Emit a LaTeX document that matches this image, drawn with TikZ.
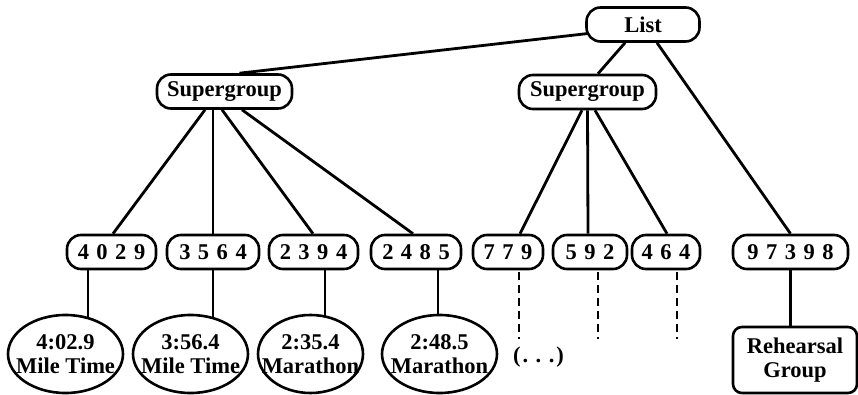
\documentclass[tikz,border=0pt]{standalone}
\usepackage{fontspec}
\setmainfont{Liberation Serif}
\usetikzlibrary{shapes.geometric,backgrounds,calc}
\newcommand\sepd{\hspace{7.5pt}}
\begin{document}
\begin{tikzpicture}[x=1pt,y=-1pt,
  every node/.style={font=\fontsize{22.5}{24}\selectfont\bfseries},
  pill/.style={draw, line width=2.6pt, fill=white, rounded corners=14pt, minimum height=34pt, inner sep=0pt},
  leaf/.style={draw, ellipse, line width=2.6pt, fill=white, minimum height=78pt, inner sep=0pt},
  lbl/.style={inner sep=0pt, align=center},
  boxr/.style={draw, line width=2.6pt, fill=white, rounded corners=9pt, minimum width=124pt, minimum height=66pt, inner sep=0pt, align=center},
  conn/.style={line width=2.8pt},
  dashconn/.style={line width=2.8pt, dash pattern=on 8pt off 5pt}
]
\useasboundingbox (0,0) rectangle (858,395);

% top level
\node[pill, minimum width=113pt] (list) at (643,24.5) {List};
\node[pill, minimum width=135pt] (sg1) at (224.5,91.5) {Supergroup};
\node[pill, minimum width=137pt] (sg2) at (587.5,92) {Supergroup};

% number nodes
\node[pill, minimum width=89pt] (n4029) at (111.5,252) {4\sepd0\sepd2\sepd9};
\node[pill, minimum width=92pt] (n3564) at (213,252) {3\sepd5\sepd6\sepd4};
\node[pill, minimum width=89pt] (n2394) at (313.5,252) {2\sepd3\sepd9\sepd4};
\node[pill, minimum width=90pt] (n2485) at (416,252) {2\sepd4\sepd8\sepd5};
\node[pill, minimum width=70pt] (n779) at (508,252) {7\sepd7\sepd9};
\node[pill, minimum width=74pt] (n592) at (590,252) {5\sepd9\sepd2};
\node[pill, minimum width=68pt] (n464) at (666,252) {4\sepd6\sepd4};
\node[pill, minimum width=115pt] (n97398) at (790.5,252) {9\sepd7\sepd3\sepd9\sepd8};

% leaves
\node[leaf, minimum width=115pt] (e1) at (65.5,354) {};
\node[lbl] (e1t) at (e1.center) {4:02.9\\Mile Time};
\node[leaf, minimum width=115pt] (e2) at (190.5,354) {};
\node[lbl] (e2t) at (e2.center) {3:56.4\\Mile Time};
\node[leaf, minimum width=105pt] (e3) at (310.5,354) {};
\node[lbl] (e3t) at (e3.center) {2:35.4\\Marathon};
\node[leaf, minimum width=115pt] (e4) at (439.5,354) {};
\node[lbl] (e4t) at (e4.center) {2:48.5\\Marathon};
\node[lbl] (dots) at (538.5,357) {(\hspace{2pt}.\hspace{7.5pt}.\hspace{7.5pt}.\hspace{2pt})};
\node[boxr] (rh) at (795,360) {Rehearsal\\Group};

% free ends of dashed lines
\coordinate (d1) at ($(n779.south)+(11,69)$);
\coordinate (d2) at ($(n592.south)+(8,69)$);
\coordinate (d3) at ($(n464.south)+(11,69)$);

\begin{scope}[on background layer]
  \draw[conn] ($(list.center)+(-33,6.5)$) -- ($(sg1.north)+(15,0)$);
  \draw[conn] ($(list.south)+(-18,0)$) -- ($(sg2.north)+(10.5,0)$);
  \draw[conn] ($(list.south)+(14,0)$) -- (n97398.north);

  \draw[conn] ($(sg1.south)+(-19.5,0)$) -- ($(n4029.north)+(1.5,0)$);
  \draw[conn] ($(sg1.south)+(-11.5,0)$) -- ($(n3564.north)+(0,0)$);
  \draw[conn] ($(sg1.south)+(-2.5,0)$) -- ($(n2394.north)+(-0.5,0)$);
  \draw[conn] ($(sg1.south)+(17.5,0)$) -- ($(n2485.north)+(-3,0)$);

  \draw[conn] ($(sg2.south)+(-5.5,0)$) -- ($(n779.north)+(12,0)$);
  \draw[conn] ($(sg2.south)+(0,0)$) -- ($(n592.north)+(-2,0)$);
  \draw[conn] ($(sg2.south)+(7.5,0)$) -- ($(n464.north)+(1,0)$);

  \coordinate (c1) at ($(n4029.south)+(-23.5,0)$);
  \coordinate (c2) at ($(n3564.south)+(0,0)$);
  \coordinate (c3) at ($(n2394.south)+(11.5,0)$);
  \coordinate (c4) at ($(n2485.south)+(22,0)$);
  \draw[conn] (c1) -- (c1 |- e1.center);
  \draw[conn] (c2) -- (c2 |- e2.center);
  \draw[conn] (c3) -- (c3 |- e3.center);
  \draw[conn] (c4) -- (c4 |- e4.center);
  \draw[conn] (n97398.south) -- (n97398.south |- rh.center);

  \draw[dashconn] ($(n779.south)+(11,1.5)$) -- (d1);
  \draw[dashconn] ($(n592.south)+(8,1.5)$) -- (d2);
  \draw[dashconn] ($(n464.south)+(11,1.5)$) -- (d3);
\end{scope}
\end{tikzpicture}
\end{document}
